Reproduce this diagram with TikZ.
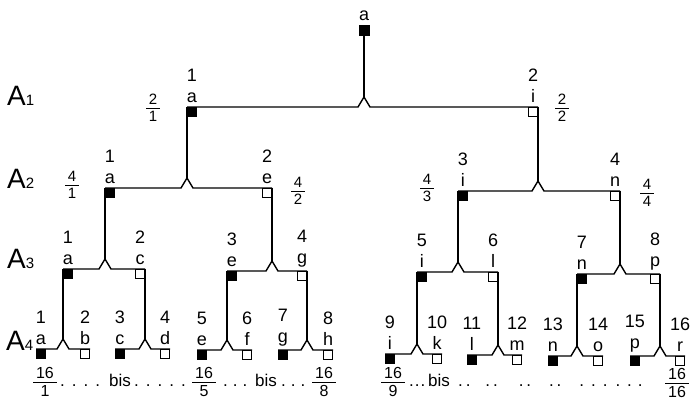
\documentclass[tikz,border=0pt]{standalone}
\usepackage{fontspec}
\setmainfont{Liberation Sans}
\setlength{\arrayrulewidth}{0.8pt}
\newcommand{\fr}[2]{\begin{tabular}{@{\,}c@{\,}}#1\\[-1pt]\hline\rule{0pt}{13pt}#2\end{tabular}}
\newcommand{\lv}[1]{{\fontsize{15}{15}\selectfont #1}}
\tikzset{
  wire/.style={line width=1.4pt},
  blk/.style={draw, line width=0.8pt, fill=black, minimum size=9pt, inner sep=0pt},
  wht/.style={draw, line width=0.8pt, fill=white, minimum size=9pt, inner sep=0pt},
  lbl/.style={font=\fontsize{18}{21}\selectfont, align=center, inner sep=0pt},
  lab/.style={label={[lbl, label distance=4pt]above:{#1}}},
  lvl/.style={font=\fontsize{28}{28}\selectfont, inner sep=0pt},
  frc/.style={font=\fontsize{15}{15}\selectfont, inner sep=0pt},
  frb/.style={font=\fontsize{16}{16}\selectfont, inner sep=0pt},
  dts/.style={font=\fontsize{17}{17}\selectfont, inner sep=0pt},
}
\begin{document}
\begin{tikzpicture}[x=1pt, y=-1pt]
    \useasboundingbox (0,0) rectangle (695,412);

    % level names
    \node[lvl, anchor=base west] (A1) at (7,105) {A\lv{1}};
    \node[lvl, anchor=base west] (A2) at (7,188) {A\lv{2}};
    \node[lvl, anchor=base west] (A3) at (7,268) {A\lv{3}};
    \node[lvl, anchor=base west] (A4) at (6,350) {A\lv{4}};

    % root
    \node[blk, minimum size=10pt, lab=a] (r0) at (364,30) {};

    % level A1
    \coordinate (pa) at (364,97);
    \node[blk, anchor=north west, lab={1\\a}] (a1) at (187,107) {};
    \node[wht, anchor=north east, lab={2\\i}] (a2) at (538,107) {};
    \draw[wire] (r0) -- (pa);
    \draw[wire] (a1.north west) -- ([shift={(-6,10)}]pa) -- (pa) -- ([shift={(6,10)}]pa) -- (a2.north east);
    \node[frc] (f21) at (153,110) {\fr{2}{1}};
    \node[frc] (f22) at (562,110) {\fr{2}{2}};

    % level A2
    \coordinate (pb1) at (187,178);
    \node[blk, anchor=north west, lab={1\\a}] (b1) at (105,188) {};
    \node[wht, anchor=north east, lab={2\\e}] (b2) at (272,188) {};
    \draw[wire] (a1.north west) -- (pb1);
    \draw[wire] (b1.north west) -- ([shift={(-6,10)}]pb1) -- (pb1) -- ([shift={(6,10)}]pb1) -- (b2.north east);
    \coordinate (pb2) at (538,181);
    \node[blk, anchor=north west, lab={3\\i}] (b3) at (458,191) {};
    \node[wht, anchor=north east, lab={4\\n}] (b4) at (620,191) {};
    \draw[wire] (a2.north east) -- (pb2);
    \draw[wire] (b3.north west) -- ([shift={(-6,10)}]pb2) -- (pb2) -- ([shift={(6,10)}]pb2) -- (b4.north east);
    \node[frc] (f41) at (72,187) {\fr{4}{1}};
    \node[frc] (f42) at (298,193) {\fr{4}{2}};
    \node[frc] (f43) at (427,190) {\fr{4}{3}};
    \node[frc] (f44) at (647,195) {\fr{4}{4}};

    % level A3
    \coordinate (pc1) at (105,259);
    \node[blk, anchor=north west, lab={1\\a}] (c1) at (63,269) {};
    \node[wht, anchor=north east, lab={2\\c}] (c2) at (145,269) {};
    \draw[wire] (b1.north west) -- (pc1);
    \draw[wire] (c1.north west) -- ([shift={(-6,10)}]pc1) -- (pc1) -- ([shift={(6,10)}]pc1) -- (c2.north east);
    \coordinate (pc2) at (272,261);
    \node[blk, anchor=north west, lab={3\\e}] (c3) at (227,271) {};
    \node[wht, anchor=north east, lab={4\\g}] (c4) at (307,271) {};
    \draw[wire] (b2.north east) -- (pc2);
    \draw[wire] (c3.north west) -- ([shift={(-6,10)}]pc2) -- (pc2) -- ([shift={(6,10)}]pc2) -- (c4.north east);
    \coordinate (pc3) at (458,262);
    \node[blk, anchor=north west, lab={5\\i}] (c5) at (417,272) {};
    \node[wht, anchor=north east, lab={6\\l}] (c6) at (498,272) {};
    \draw[wire] (b3.north west) -- (pc3);
    \draw[wire] (c5.north west) -- ([shift={(-6,10)}]pc3) -- (pc3) -- ([shift={(6,10)}]pc3) -- (c6.north east);
    \coordinate (pc4) at (620,264);
    \node[blk, anchor=north west, lab={7\\n}] (c7) at (577,274) {};
    \node[wht, anchor=north east, lab={8\\p}] (c8) at (660,274) {};
    \draw[wire] (b4.north east) -- (pc4);
    \draw[wire] (c7.north west) -- ([shift={(-6,10)}]pc4) -- (pc4) -- ([shift={(6,10)}]pc4) -- (c8.north east);

    % level A4
    \coordinate (pd1) at (63,339);
    \node[blk, anchor=north west, lab={1\\a}] (d1) at (36,349) {};
    \node[wht, anchor=north east, lab={2\\b}] (d2) at (90,349) {};
    \draw[wire] (c1.north west) -- (pd1);
    \draw[wire] (d1.north west) -- ([shift={(-6,10)}]pd1) -- (pd1) -- ([shift={(6,10)}]pd1) -- (d2.north east);
    \coordinate (pd2) at (145,339);
    \node[blk, anchor=north west, lab={3\\c}] (d3) at (115,349) {};
    \node[wht, anchor=north east, lab={4\\d}] (d4) at (170,349) {};
    \draw[wire] (c2.north east) -- (pd2);
    \draw[wire] (d3.north west) -- ([shift={(-6,10)}]pd2) -- (pd2) -- ([shift={(6,10)}]pd2) -- (d4.north east);
    \coordinate (pd3) at (227,340);
    \node[blk, anchor=north west, lab={5\\e}] (d5) at (197,350) {};
    \node[wht, anchor=north east, lab={6\\f}] (d6) at (252,350) {};
    \draw[wire] (c3.north west) -- (pd3);
    \draw[wire] (d5.north west) -- ([shift={(-6,10)}]pd3) -- (pd3) -- ([shift={(6,10)}]pd3) -- (d6.north east);
    \coordinate (pd4) at (307,340);
    \node[blk, anchor=north west, lab={7\\g}] (d7) at (278,350) {};
    \node[wht, anchor=north east, lab={8\\h}] (d8) at (333,350) {};
    \draw[wire] (c4.north east) -- (pd4);
    \draw[wire] (d7.north west) -- ([shift={(-6,10)}]pd4) -- (pd4) -- ([shift={(6,10)}]pd4) -- (d8.north east);
    \coordinate (pd5) at (417,344);
    \node[blk, anchor=north west, lab={9\\i}] (d9) at (385,354) {};
    \node[wht, anchor=north east, lab={10\\k}] (d10) at (442,354) {};
    \draw[wire] (c5.north west) -- (pd5);
    \draw[wire] (d9.north west) -- ([shift={(-6,10)}]pd5) -- (pd5) -- ([shift={(6,10)}]pd5) -- (d10.north east);
    \coordinate (pd6) at (498,345);
    \node[blk, anchor=north west, lab={11\\l}] (d11) at (467,355) {};
    \node[wht, anchor=north east, lab={12\\m}] (d12) at (522,355) {};
    \draw[wire] (c6.north east) -- (pd6);
    \draw[wire] (d11.north west) -- ([shift={(-6,10)}]pd6) -- (pd6) -- ([shift={(6,10)}]pd6) -- (d12.north east);
    \coordinate (pd7) at (577,346);
    \node[blk, anchor=north west, lab={13\\n}] (d13) at (548,356) {};
    \node[wht, anchor=north east, lab={14\\o}] (d14) at (603,356) {};
    \draw[wire] (c7.north west) -- (pd7);
    \draw[wire] (d13.north west) -- ([shift={(-6,10)}]pd7) -- (pd7) -- ([shift={(6,10)}]pd7) -- (d14.north east);
    \coordinate (pd8) at (660,346);
    \node[blk, anchor=north west, lab={15\\p}] (d15) at (630,356) {};
    \node[wht, anchor=north east, lab={16\\r}] (d16) at (685,356) {};
    \draw[wire] (c8.north east) -- (pd8);
    \draw[wire] (d15.north west) -- ([shift={(-6,10)}]pd8) -- (pd8) -- ([shift={(6,10)}]pd8) -- (d16.north east);

    % bottom row
    \node[frb] (f161) at (45,384) {\fr{16}{1}};
    \node[dts, anchor=base west] (t1) at (60,386) {.\hspace{7pt}.\hspace{7pt}.\hspace{7pt}.};
    \node[dts, anchor=base] (t2) at (120,386) {bis};
    \node[dts, anchor=base west] (t3) at (134,386) {.\hspace{7pt}.\hspace{7pt}.\hspace{7pt}.\hspace{7pt}.};
    \node[frb] (f165) at (204,384) {\fr{16}{5}};
    \node[dts, anchor=base west] (t4) at (223,386) {.\hspace{5pt}.\hspace{5pt}.};
    \node[dts, anchor=base] (t5) at (266,386) {bis};
    \node[dts, anchor=base west] (t6) at (281,386) {.\hspace{5pt}.\hspace{5pt}.};
    \node[frb] (f168) at (324,384) {\fr{16}{8}};
    \node[frb] (f169) at (393,384) {\fr{16}{9}};
    \node[dts, anchor=base west] (t7) at (409,386) {.\hspace{1pt}.\hspace{1pt}.};
    \node[dts, anchor=base] (t8) at (439,386) {bis};
    \node[dts, anchor=base west] (t9) at (458,386) {.\,.\hspace{15pt}.\,.\hspace{21pt}.\,.\hspace{18pt}.\,.\hspace{18pt}.\hspace{7pt}.\hspace{7pt}.\hspace{8pt}.\hspace{7pt}.\hspace{6pt}.};
    \node[frb] (f1616) at (677,385) {\fr{16}{16}};
\end{tikzpicture}
\end{document}
